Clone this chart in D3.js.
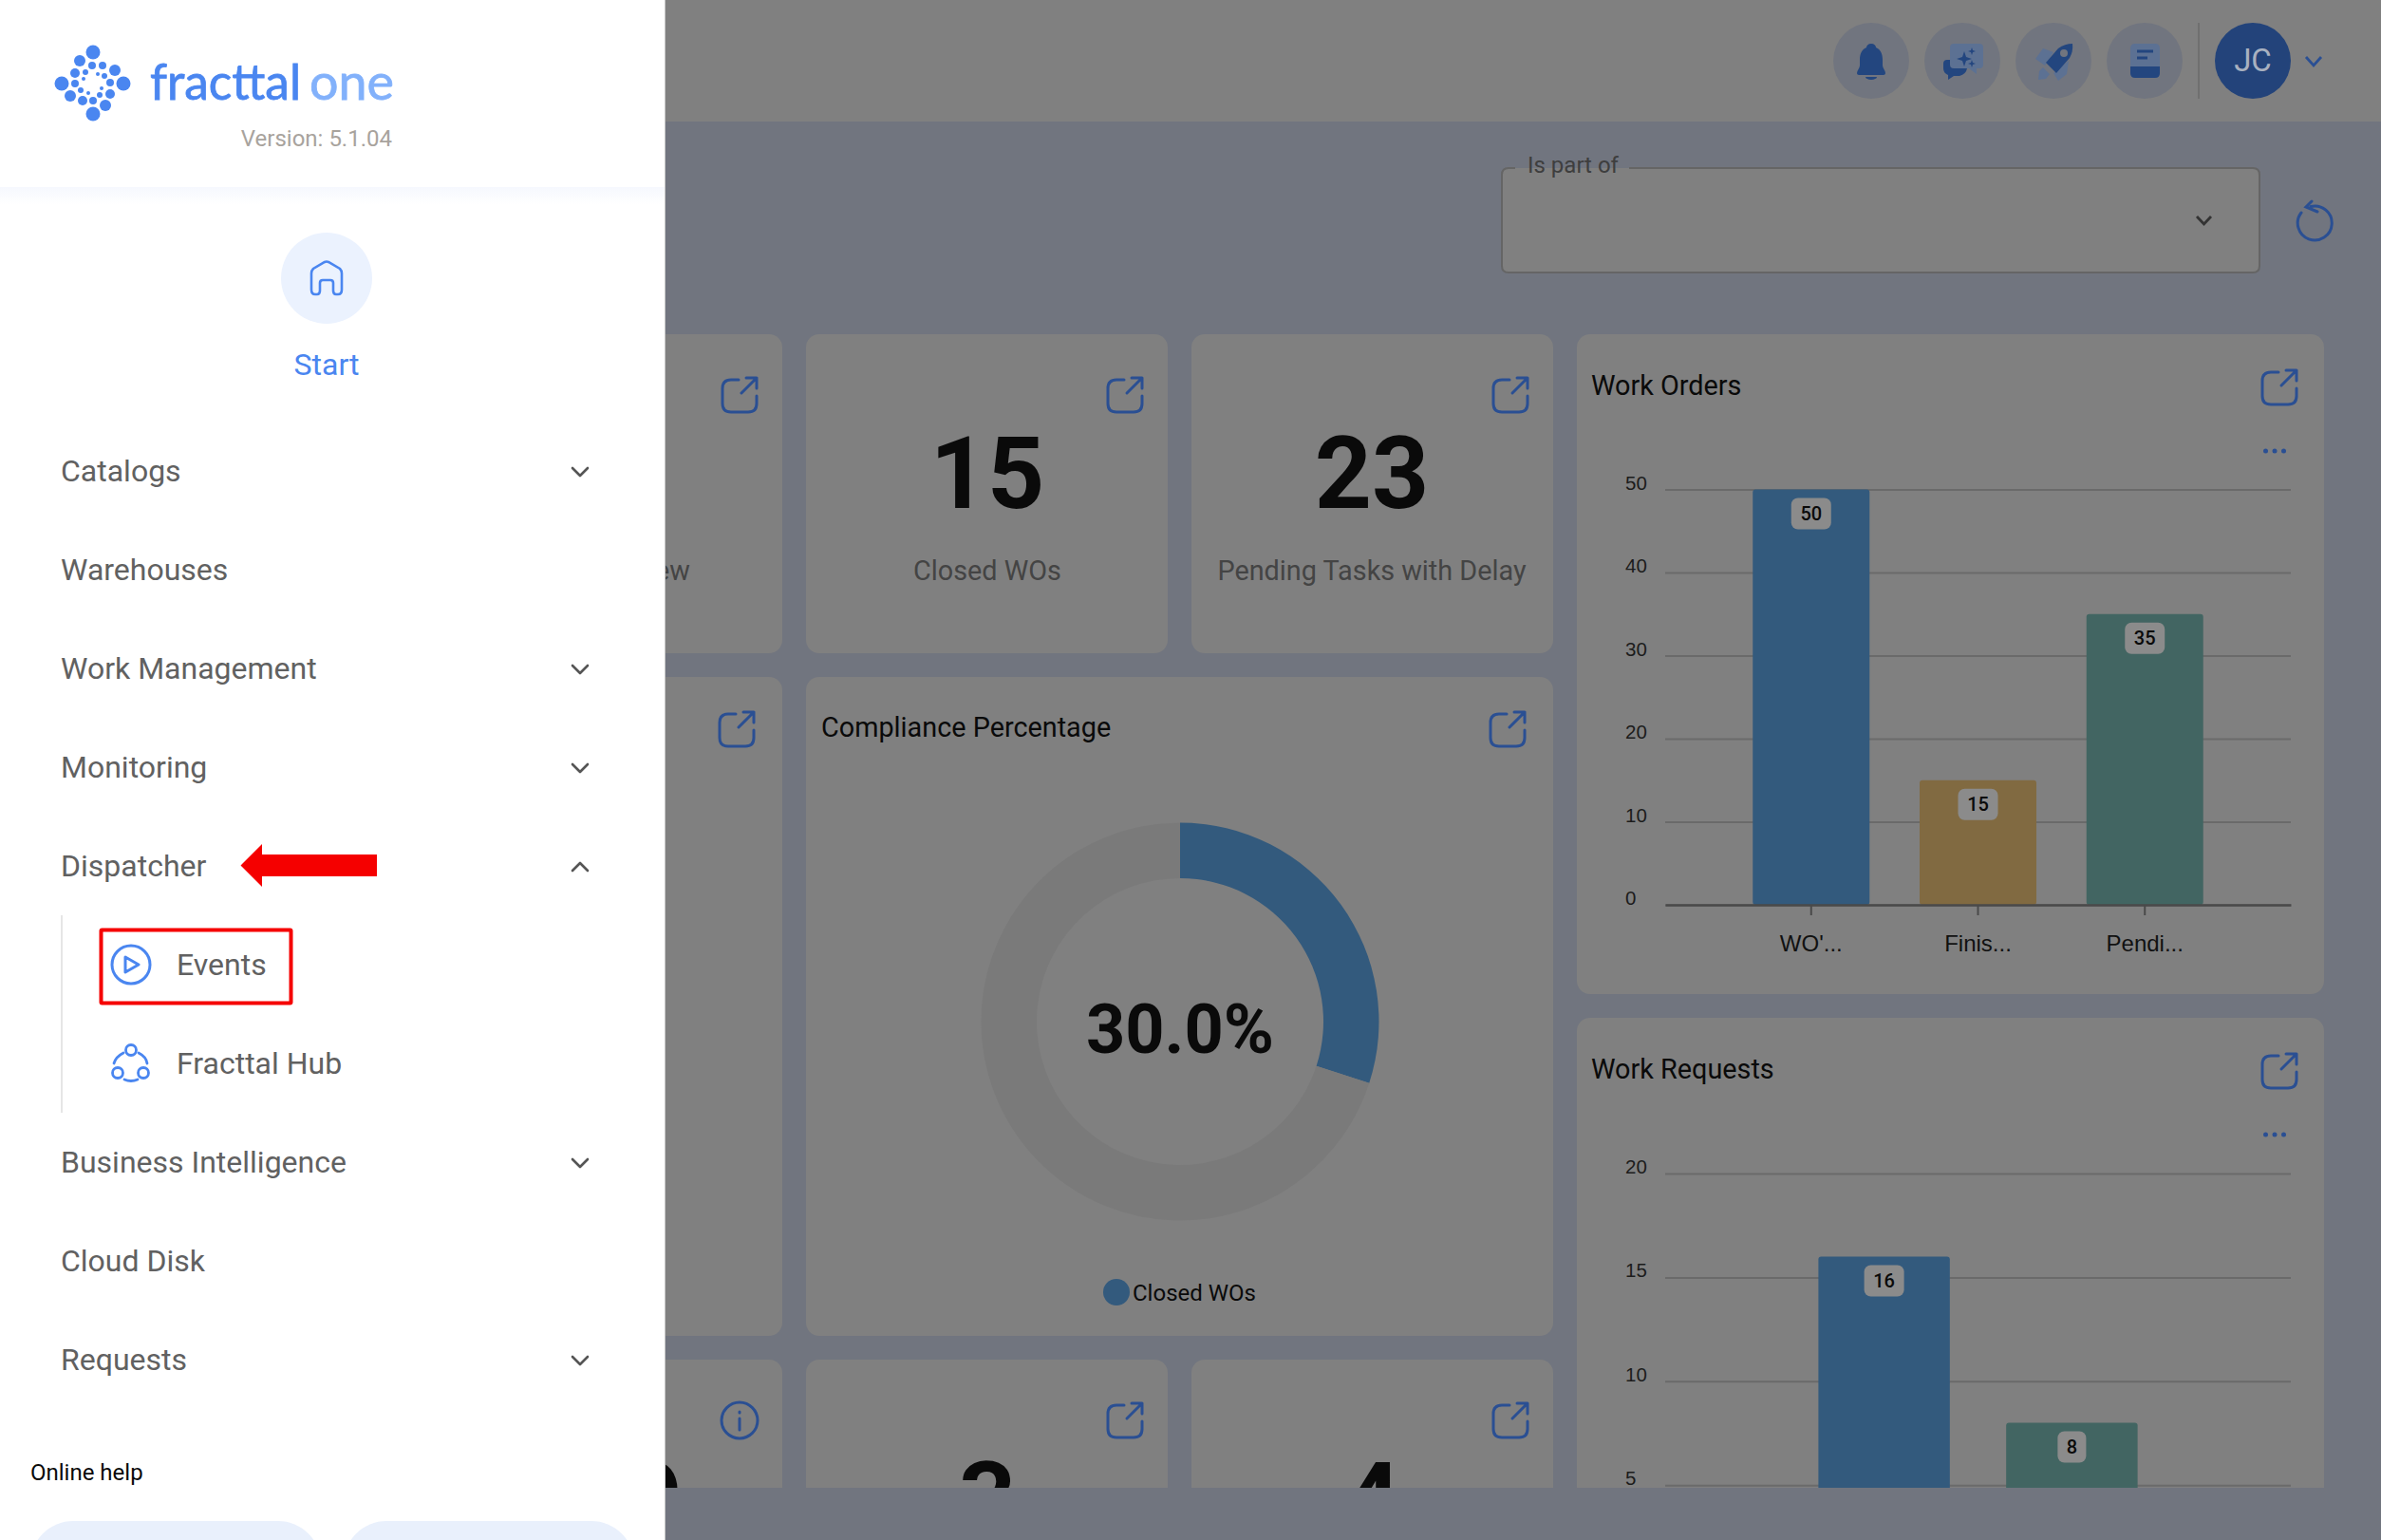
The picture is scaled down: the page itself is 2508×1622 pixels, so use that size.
<!DOCTYPE html>
<html>
<head>
<meta charset="utf-8">
<script src="https://cdn.jsdelivr.net/npm/d3@7"></script>
<style>
  html, body { margin: 0; padding: 0; background: #71757f; }
  svg { display: block; font-family: Roboto, sans-serif; }
  .grid line { stroke: #6a6a6a; stroke-width: 2; }
  .grid text { fill: #1c1c1c; font-size: 20.5px; text-anchor: start; }
  .xaxis path.domain { stroke: #4a4a4a; stroke-width: 2.5; }
  .xaxis line { stroke: #4a4a4a; stroke-width: 2; }
  .xaxis text { fill: #111; font-size: 24px; }
  .open { fill: none; stroke: #2a4f93; stroke-width: 3; stroke-linecap: round; stroke-linejoin: round; }
  .menu { fill: #616161; font-size: 32px; }
  .chev { fill: none; stroke: #555; stroke-width: 2.6; stroke-linecap: round; stroke-linejoin: round; }
</style>
</head>
<body>
<div id="chart"></div>
<script>
// Chart values
var workOrderCategories = ["WO'...", "Finis...", "Pendi..."];
var workOrderValues = [50, 15, 35];
var workOrderTicks = [0, 10, 20, 30, 40, 50];
var workOrderColors = ["#335a7d", "#816a41", "#426562"];

var workRequestCategories = ["Open", "Pending"]; // axis is cut off in the picture
var workRequestValues = [16, 8];
var workRequestTicks = [5, 10, 15, 20];
var workRequestColors = ["#335a7d", "#426562"];

var complianceLabel = "Closed WOs";
var complianceValues = [30, 70];
var complianceColors = ["#335a7d", "#7a7a7a"];

// Sidebar and cards
var menuTop = ["Catalogs", "Warehouses", "Work Management", "Monitoring", "Dispatcher"];
var menuBottom = ["Business Intelligence", "Cloud Disk", "Requests"];
var menuNoArrow = ["Warehouses", "Cloud Disk"];

var svgWidth = 2508;
var svgHeight = 1622;

var svg = d3.select("#chart")
    .append("svg")
    .attr("width", svgWidth)
    .attr("height", svgHeight);

svg.append("rect").attr("width", svgWidth).attr("height", svgHeight).attr("fill", "#71757f");
svg.append("rect").attr("width", svgWidth).attr("height", 128).attr("fill", "#808080");

svg.append("clipPath").attr("id", "dash")
    .append("rect").attr("x", 0).attr("y", 0).attr("width", svgWidth).attr("height", 1567);

var dash = svg.append("g").attr("clip-path", "url(#dash)");

function card(x, y, w, h) {
    dash.append("rect")
        .attr("x", x).attr("y", y).attr("width", w).attr("height", h)
        .attr("rx", 14).attr("fill", "#808080");
}

function openIcon(x, y) {
    dash.append("path").attr("class", "open")
        .attr("transform", `translate(${x}, ${y})`)
        .attr("d", "M19 4 H11 Q2 4 2 13 V29 Q2 38 11 38 H29 Q38 38 38 29 V21 M22 18 L38 2 M27 2 H38 V13");
}

function label(g, text, x, y, size, color, weight, anchor) {
    return g.append("text")
        .attr("x", x).attr("y", y)
        .attr("font-size", size)
        .attr("font-weight", weight || 400)
        .attr("fill", color)
        .attr("text-anchor", anchor || "start")
        .text(text);
}

// cards
card(443, 352, 381, 336);
card(849, 352, 381, 336);
card(1255, 352, 381, 336);
card(443, 713, 381, 694);
card(849, 713, 787, 694);
card(443, 1432, 381, 300);
card(849, 1432, 381, 300);
card(1255, 1432, 381, 300);
card(1661, 352, 787, 695);
card(1661, 1072, 787, 600);

[[759, 396], [1165, 396], [1571, 396], [756, 748], [1568, 748], [1165, 1476], [1571, 1476], [2381, 388], [2381, 1108]]
    .forEach(function(p) { openIcon(p[0], p[1]); });

dash.append("circle").attr("class", "open").attr("cx", 779).attr("cy", 1496).attr("r", 19);
dash.append("path").attr("class", "open").attr("d", "M779 1494 V1506 M779 1487 V1488");

// big number cards
label(dash, "15", 1040, 535, 105, "#0a0a0a", 700, "middle");
label(dash, "23", 1445, 535, 105, "#0a0a0a", 700, "middle");
label(dash, "Closed WOs", 1040, 611, 28.8, "#444", 400, "middle");
label(dash, "Pending Tasks with Delay", 1445, 611, 28.8, "#444", 400, "middle");
label(dash, "ew", 727, 611, 28.8, "#444", 400, "end");
label(dash, "3", 1040, 1615, 105, "#0a0a0a", 700, "middle");
label(dash, "4", 1445, 1615, 105, "#0a0a0a", 700, "middle");
label(dash, "9", 719, 1615, 105, "#0a0a0a", 700, "end");

// Compliance donut
label(dash, "Compliance Percentage", 865, 776, 28.8, "#0a0a0a");
var donut = dash.append("g").attr("transform", "translate(1243, 1076)");
var pie = d3.pie().sort(null);
var arc = d3.arc().innerRadius(151).outerRadius(209.5);
donut.selectAll("path")
    .data(pie(complianceValues))
    .enter()
    .append("path")
    .attr("d", arc)
    .attr("fill", (d, i) => complianceColors[i]);
label(donut, "30.0%", 0, 33, 72, "#0a0a0a", 700, "middle");
dash.append("circle").attr("cx", 1176).attr("cy", 1361).attr("r", 14).attr("fill", complianceColors[0]);
label(dash, complianceLabel, 1193, 1369.5, 24, "#0a0a0a");

// bar chart used by the two right hand cards
function barChart(opts) {
    var x = d3.scaleBand()
        .domain(opts.categories)
        .range([1754, 2413])
        .paddingInner(0.3)
        .paddingOuter(opts.outer);
    var y = d3.scaleLinear()
        .domain([0, d3.max(opts.ticks)])
        .range([opts.bottom, opts.top]);

    var grid = dash.append("g")
        .attr("class", "grid")
        .attr("transform", "translate(1754, 0)")
        .call(d3.axisLeft(y).tickValues(opts.ticks).tickSize(-659));
    grid.select(".domain").remove();
    grid.selectAll("text").attr("x", -42).attr("y", -7);

    dash.append("g").selectAll("rect")
        .data(opts.values)
        .enter()
        .append("rect")
        .attr("x", (d, i) => x(opts.categories[i]))
        .attr("y", d => y(d))
        .attr("width", x.bandwidth())
        .attr("height", d => y(0) - y(d))
        .attr("rx", 3)
        .attr("fill", (d, i) => opts.colors[i]);

    if (opts.showAxis) {
        var xAxis = dash.append("g")
            .attr("class", "xaxis")
            .attr("transform", `translate(0, ${opts.bottom})`)
            .call(d3.axisBottom(x).tickSize(11).tickSizeOuter(0));
        xAxis.selectAll("text").attr("y", 32);
    }

    var tags = dash.append("g").selectAll("g")
        .data(opts.values)
        .enter()
        .append("g")
        .attr("transform", (d, i) => `translate(${x(opts.categories[i]) + x.bandwidth() / 2}, ${y(d) + 9})`);
    tags.append("rect")
        .attr("x", d => -(18 + 12 * String(d).length) / 2)
        .attr("width", d => 18 + 12 * String(d).length)
        .attr("height", 33)
        .attr("rx", 7)
        .attr("fill", "#8b8b8b");
    tags.append("text")
        .attr("y", 23.5)
        .attr("text-anchor", "middle")
        .attr("font-size", 20)
        .attr("font-weight", 500)
        .attr("fill", "#0a0a0a")
        .text(d => d);

    [-9.5, 0, 9.5].forEach(function(dx) {
        dash.append("circle").attr("cx", 2396 + dx).attr("cy", opts.dotsY).attr("r", 2.5).attr("fill", "#2a4f93");
    });
}

label(dash, "Work Orders", 1676, 416, 28.8, "#0a0a0a");
barChart({
    categories: workOrderCategories, values: workOrderValues, ticks: workOrderTicks, colors: workOrderColors,
    top: 515.5, bottom: 953, outer: 0.525, showAxis: true, dotsY: 475
});

label(dash, "Work Requests", 1676, 1136, 28.8, "#0a0a0a");
barChart({
    categories: workRequestCategories, values: workRequestValues, ticks: [0].concat(workRequestTicks), colors: workRequestColors,
    top: 1236, bottom: 1673.6, outer: 0.816, showAxis: false, dotsY: 1195
});

// Filter box
svg.append("rect").attr("x", 1582).attr("y", 177).attr("width", 798).attr("height", 110).attr("rx", 7).attr("fill", "#808080");
svg.append("path")
    .attr("d", "M1596 177 H1589 Q1582 177 1582 184 V280 Q1582 287 1589 287 H2373 Q2380 287 2380 280 V184 Q2380 177 2373 177 H1716")
    .attr("fill", "none").attr("stroke", "#656565").attr("stroke-width", 2);
svg.append("rect").attr("x", 1596).attr("y", 168).attr("width", 120).attr("height", 9).attr("fill", "#71757f");
svg.append("rect").attr("x", 1596).attr("y", 177).attr("width", 120).attr("height", 9).attr("fill", "#808080");
label(svg, "Is part of", 1609, 182, 24, "#3e3e3e");
svg.append("path").attr("d", "M2314 228 L2321.5 236 L2329 228").attr("fill", "none").attr("stroke", "#333").attr("stroke-width", 2.8);

// Refresh
svg.append("path")
    .attr("d", "M2424 224 A18 18 0 1 0 2434 217.5 M2435 212 L2429 218 L2441 223")
    .attr("fill", "none").attr("stroke", "#2a4f93").attr("stroke-width", 3).attr("stroke-linecap", "round");

// Header icons
[1971, 2067, 2163, 2259].forEach(function(cx) {
    svg.append("circle").attr("cx", cx).attr("cy", 64).attr("r", 40).attr("fill", "#71757f");
});
svg.append("path").attr("fill", "#23467f")
    .attr("d", "M1971 46 c-3 0 -5 2 -5 4 c-5 2 -7 7 -7 13 v6 c0 3 -3 5 -3 8 c0 1 1 2 2 2 h26 c1 0 2 -1 2 -2 c0 -3 -3 -5 -3 -8 v-6 c0 -6 -2 -11 -7 -13 c0 -2 -2 -4 -5 -4z M1965 81 h12 a6 3 0 0 1 -12 0z");
svg.append("path").attr("fill", "#5c7193")
    .attr("d", "M2058 46 h27 q4 0 4 4 v18 q0 4 -4 4 h-3 v6 l-8 -6 h-16 q-4 0 -4 -4 v-18 q0 -4 4 -4z");
svg.append("path").attr("fill", "#23467f")
    .attr("d", "M2051 63 h3 v5 q0 4 4 4 h14 q-1 6 -8 8 h-6 l-6 4 v-5 q-5 -2 -5 -7 v-5 q0 -4 4 -4z M2069 54 l2 6 l6 2 l-6 2 l-2 6 l-2 -6 l-6 -2 l6 -2z M2077 50 l1 3 l3 1 l-3 1 l-1 3 l-1 -3 l-3 -1 l3 -1z M2077 63 l1 3 l3 1 l-3 1 l-1 3 l-1 -3 l-3 -1 l3 -1z");
// rocket
svg.append("path").attr("fill", "#5c7193")
    .attr("d", "M2152 51 L2144 62 L2154 69 L2163 55 Z M2179 64 L2177 78 L2168 85 L2163 77 Z M2152 71 L2159 78 L2155 83 L2147 84 L2148 75 Z");
svg.append("path").attr("fill", "#23467f")
    .attr("d", "M2183 46 Q2184 54 2180 61 L2166 77 L2155 66 L2168 51 Q2175 46 2183 46 Z");
svg.append("circle").attr("cx", 2174).attr("cy", 56).attr("r", 4).attr("fill", "#71757f");
// book
svg.append("path").attr("fill", "#5c7193").attr("d", "M2249 46 h21 q5 0 5 5 v19 h-31 v-19 q0 -5 5 -5z");
svg.append("path").attr("fill", "#23467f").attr("d", "M2244 70 h31 v7 q0 5 -5 5 h-21 q-5 0 -5 -5z");
svg.append("path").attr("stroke", "#23467f").attr("stroke-width", 2.8).attr("d", "M2251 54 h17 M2251 61 h11");
svg.append("line").attr("x1", 2316).attr("x2", 2316).attr("y1", 24).attr("y2", 104).attr("stroke", "#707070").attr("stroke-width", 2);
svg.append("circle").attr("cx", 2373).attr("cy", 64).attr("r", 40).attr("fill", "#23437a");
label(svg, "JC", 2373, 75, 33, "#a9b1c0", 400, "middle");
svg.append("path").attr("d", "M2429 60 L2437 69 L2445 60").attr("fill", "none").attr("stroke", "#2a4f93").attr("stroke-width", 2.8);

// Sidebar
var side = svg.append("g");
side.append("rect").attr("width", 700).attr("height", svgHeight).attr("fill", "#fff");
side.append("rect").attr("x", 700).attr("width", 1).attr("height", svgHeight).attr("fill", "#c8c8c8");

var shade = svg.append("defs").append("linearGradient").attr("id", "shade").attr("x2", 0).attr("y2", 1);
shade.append("stop").attr("offset", 0).attr("stop-color", "#f6f8fe");
shade.append("stop").attr("offset", 1).attr("stop-color", "#fff");
side.append("rect").attr("y", 197).attr("width", 700).attr("height", 18).attr("fill", "url(#shade)");

// logo dots
var logoDots = [[98, 55, 7.5], [84, 64, 6], [108, 69, 4], [121, 74, 6], [130, 88, 7.5], [116, 87, 4], [116, 99, 5],
    [111, 111, 6], [98, 120, 7.5], [98, 106, 4], [87, 106, 5], [74, 101, 6], [65, 88, 7.5], [79, 88, 4], [79, 77, 5],
    [97, 69, 4], [90, 76, 3], [88, 83, 2], [85, 95, 3], [93, 98, 2], [105, 100, 3], [107, 93, 2], [110, 80, 3], [103, 78, 2]];
side.append("g").selectAll("circle")
    .data(logoDots)
    .enter()
    .append("circle")
    .attr("cx", d => d[0]).attr("cy", d => d[1]).attr("r", d => d[2])
    .attr("fill", "#4a86f0");
label(side, "fracttal", 158, 105, 52, "#4a86f0", 400).attr("font-family", "Lato")
    .attr("textLength", 159).attr("lengthAdjust", "spacingAndGlyphs")
    .attr("stroke", "#4a86f0").attr("stroke-width", 0.8);
label(side, "one", 326, 105, 52, "#82b1fb", 400).attr("font-family", "Lato")
    .attr("textLength", 89).attr("lengthAdjust", "spacingAndGlyphs")
    .attr("stroke", "#82b1fb").attr("stroke-width", 0.8);
label(side, "Version: 5.1.04", 413, 154, 24, "#a8a39d", 400, "end");

side.append("circle").attr("cx", 344).attr("cy", 293).attr("r", 48).attr("fill", "#ebf2fe");
side.append("path")
    .attr("d", "M328 305 V288 Q328 285 330 283 L342 276 Q344 275 346 276 L358 283 Q360 285 360 288 V305 Q360 310 356 310 H354 Q351 310 351 306 V298 Q351 295 348 295 H340 Q337 295 337 298 V306 Q337 310 334 310 H332 Q328 310 328 305 Z")
    .attr("fill", "none").attr("stroke", "#4a86f0").attr("stroke-width", 2.6);
label(side, "Start", 344, 395, 32, "#4a86f0", 400, "middle");

function chevron(cx, cy, up) {
    var s = up ? -1 : 1;
    side.append("path").attr("class", "chev")
        .attr("d", `M${cx - 8} ${cy - 4 * s} L${cx} ${cy + 4 * s} L${cx + 8} ${cy - 4 * s}`);
}

function menuRow(name, cy) {
    side.append("text").attr("class", "menu").attr("x", 64).attr("y", cy + 11).text(name);
    if (menuNoArrow.indexOf(name) < 0) chevron(611, cy + 1, name === "Dispatcher");
}

menuTop.forEach(function(name, i) { menuRow(name, 496 + 104 * i); });
menuBottom.forEach(function(name, i) { menuRow(name, 1224 + 104 * i); });

// Dispatcher children
side.append("rect").attr("x", 64).attr("y", 964).attr("width", 2).attr("height", 208).attr("fill", "#e6e6e6");
side.append("text").attr("class", "menu").attr("x", 186).attr("y", 1027).text("Events");
side.append("text").attr("class", "menu").attr("x", 186).attr("y", 1131).text("Fracttal Hub");

side.append("circle").attr("cx", 138).attr("cy", 1016).attr("r", 20)
    .attr("fill", "none").attr("stroke", "#4a86f0").attr("stroke-width", 3);
side.append("path").attr("d", "M132 1008 L146 1016 L132 1024 Z")
    .attr("fill", "none").attr("stroke", "#4a86f0").attr("stroke-width", 3).attr("stroke-linejoin", "round");

side.append("g").selectAll("circle")
    .data([[138, 1106], [124, 1130], [151, 1130]])
    .enter()
    .append("circle")
    .attr("cx", d => d[0]).attr("cy", d => d[1]).attr("r", 5.5)
    .attr("fill", "none").attr("stroke", "#4a86f0").attr("stroke-width", 2.8);
side.append("path")
    .attr("d", "M130 1109 Q122 1113 120 1120 M146 1109 Q154 1113 155 1120 M131 1137 Q138 1140 145 1137")
    .attr("fill", "none").attr("stroke", "#4a86f0").attr("stroke-width", 2.8).attr("stroke-linecap", "round");

// Red annotations
side.append("path").attr("d", "M253.5 911.5 L276 889 V900 H397 V923 H276 V934 Z").attr("fill", "#f50000");
side.append("rect").attr("x", 106.5).attr("y", 979.5).attr("width", 200).attr("height", 77).attr("rx", 1)
    .attr("fill", "none").attr("stroke", "#f50000").attr("stroke-width", 4);

// Online help and the two buttons below it
label(side, "Online help", 32, 1559, 24, "#0a0a0a");
side.append("rect").attr("x", 32).attr("y", 1602).attr("width", 306).attr("height", 90).attr("rx", 45).attr("fill", "#e9f0fc");
side.append("rect").attr("x", 362).attr("y", 1602).attr("width", 306).attr("height", 90).attr("rx", 45).attr("fill", "#e9f0fc");
</script>
</body>
</html>
